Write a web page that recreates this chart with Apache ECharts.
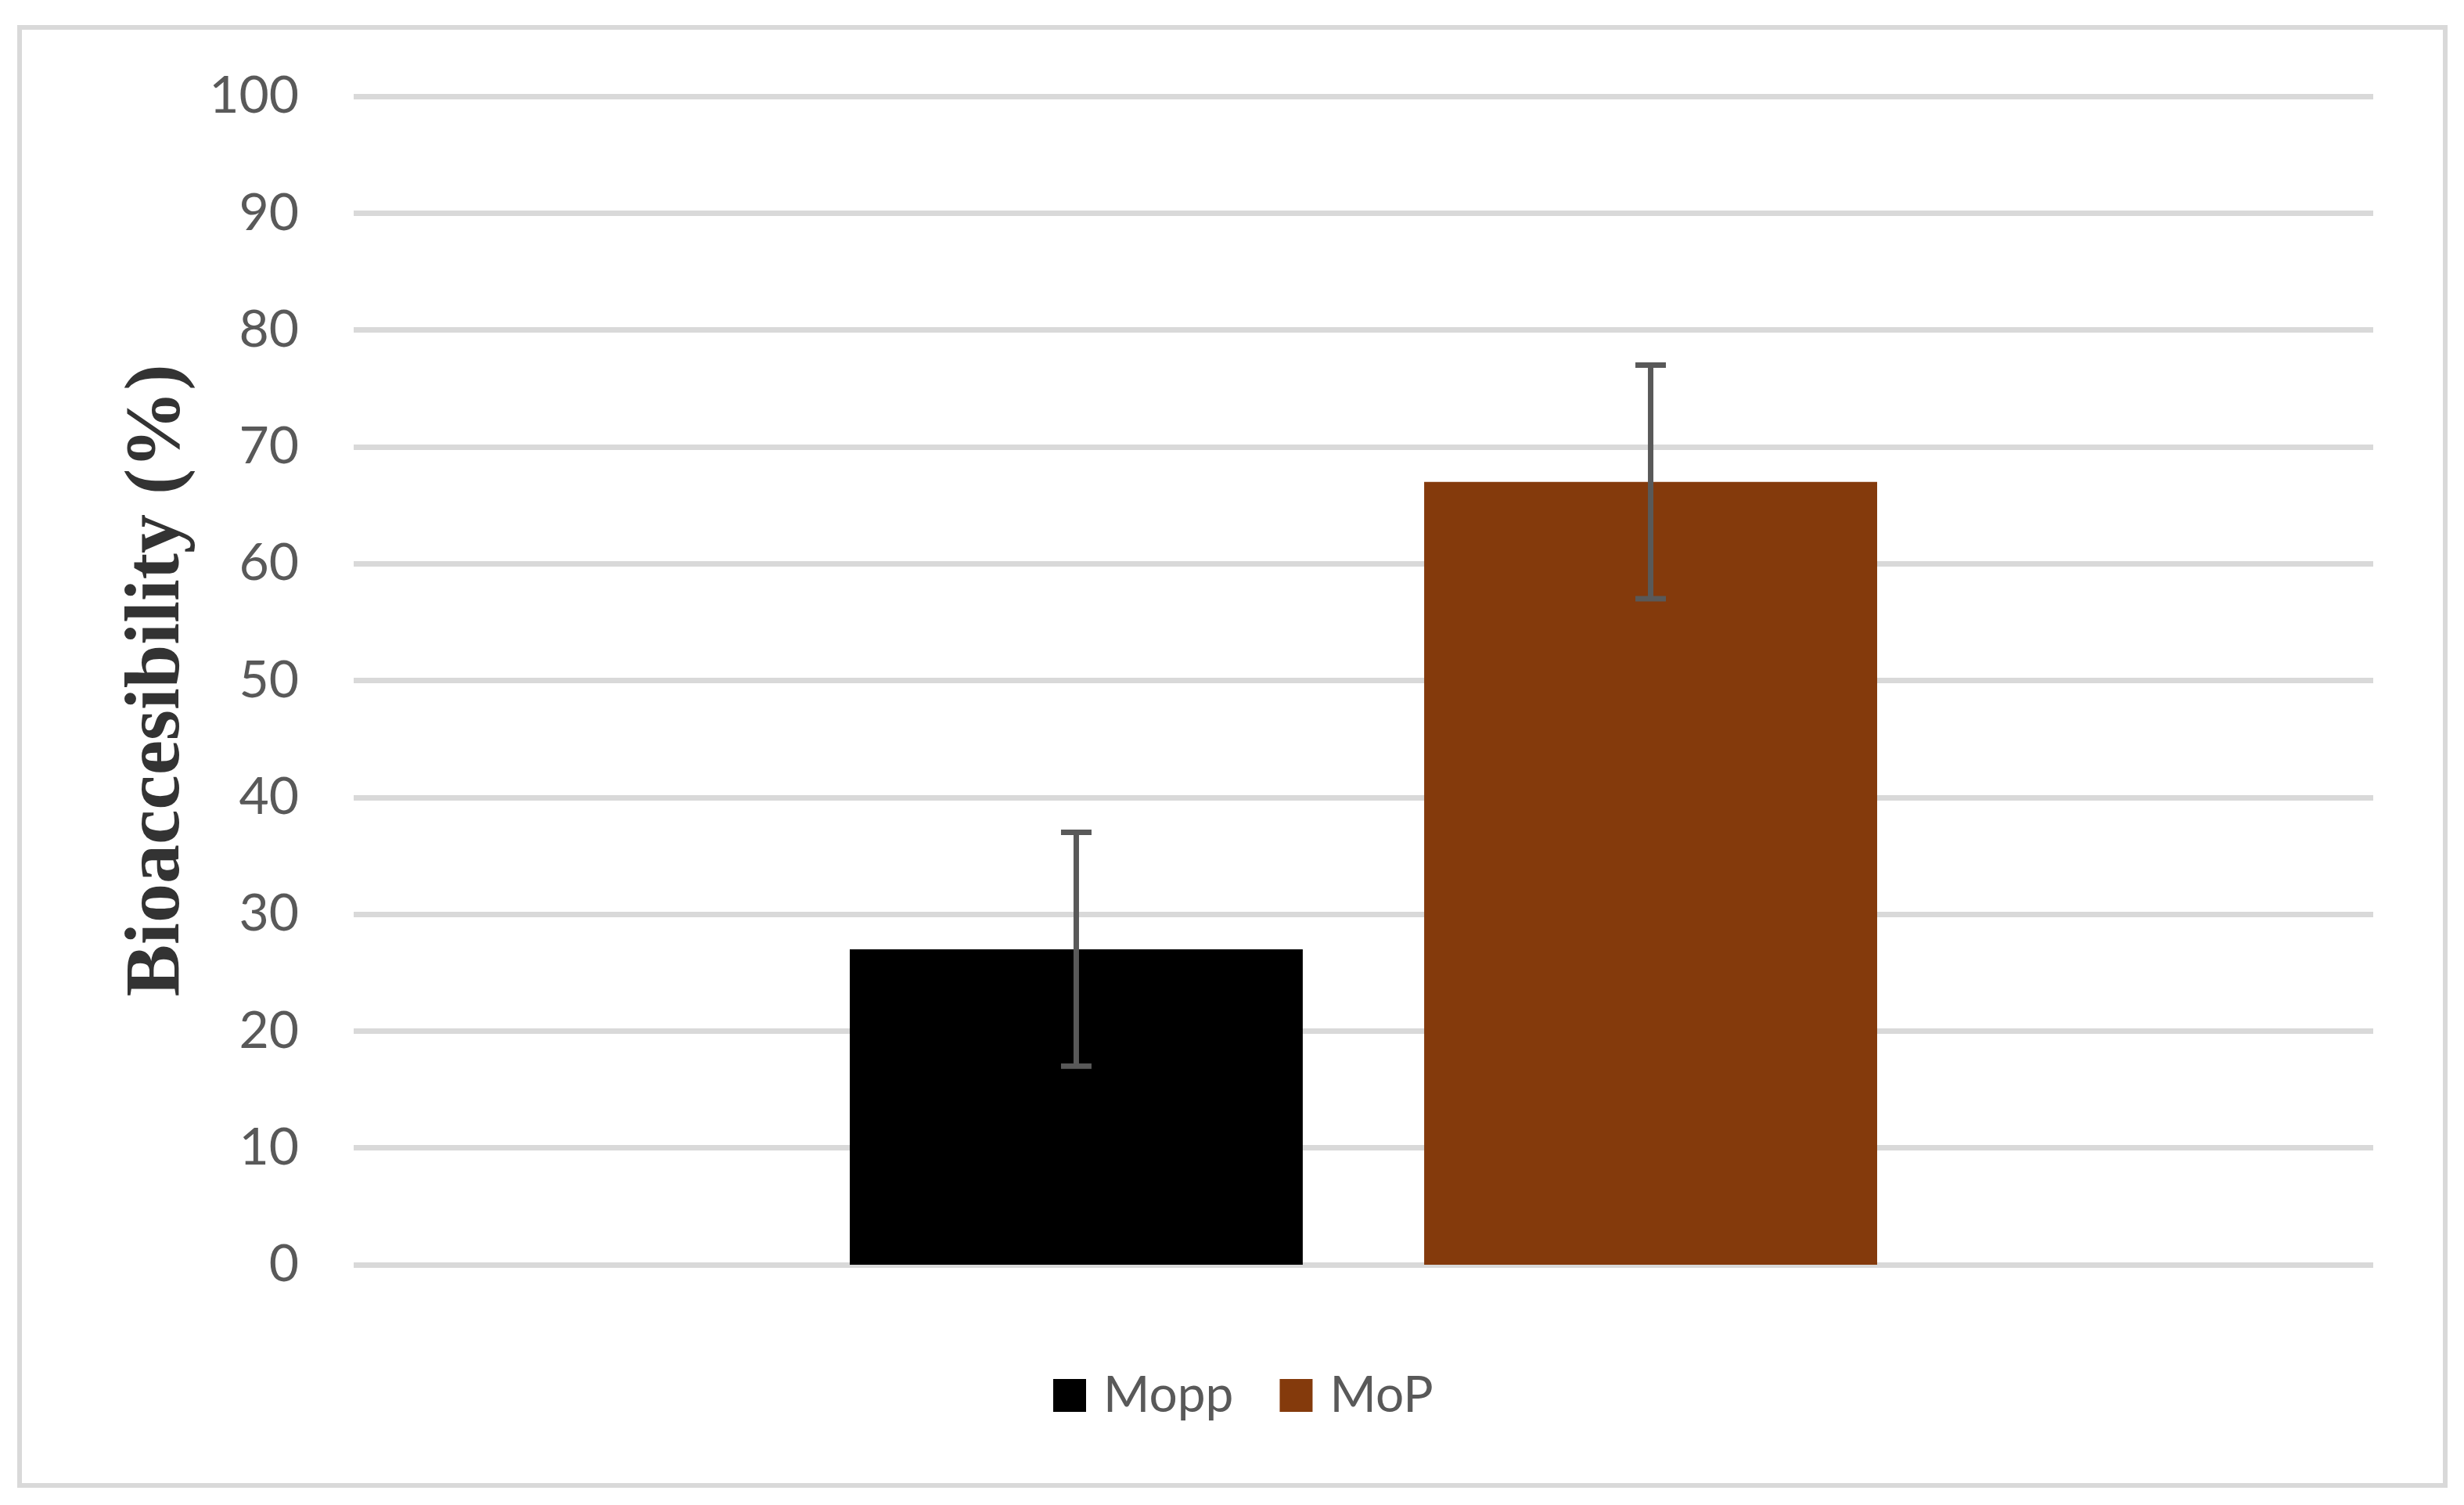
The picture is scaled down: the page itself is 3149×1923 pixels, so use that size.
<!DOCTYPE html>
<html>
<head>
<meta charset="utf-8">
<script src="https://cdn.jsdelivr.net/npm/echarts@6/dist/echarts.min.js"></script>
<style>
  html, body { margin: 0; padding: 0; background: #fff; }
  #chart { width: 3149px; height: 1923px; }
</style>
</head>
<body>
<div id="chart"></div>
<script>
const categories = ['']
const seriesNames = ['Mopp', 'MoP']
const seriesColors = ['#000000', '#843a0c']
const means = [27, 67]
const errors = [10, 10]
const yTicks = { min: 0, max: 100, interval: 10 }

const BAR_W = 0.2243   // share of category band
const BAR_GAP = 0.268  // share of bar width

const TEXT = '#595959'
const GRIDC = '#d9d9d9'

const chart = echarts.init(document.getElementById('chart'))

function errRender(idx) {
  return function (params, api) {
    const band = api.size([1, 0])[0]
    const bw = band * BAR_W
    const off = (bw + bw * BAR_GAP) / 2 * (idx === 0 ? -1 : 1)
    const lo = api.coord([api.value(0), api.value(1)])
    const hi = api.coord([api.value(0), api.value(2)])
    const x = lo[0] + off
    const half = 19.5
    const style = { stroke: '#595959', lineWidth: 7 }
    return {
      type: 'group',
      children: [
        { type: 'line', shape: { x1: x, y1: lo[1], x2: x, y2: hi[1] }, style },
        { type: 'line', shape: { x1: x - half, y1: lo[1], x2: x + half, y2: lo[1] }, style },
        { type: 'line', shape: { x1: x - half, y1: hi[1], x2: x + half, y2: hi[1] }, style }
      ]
    }
  }
}

const barSeries = seriesNames.map((name, i) => ({
  name, type: 'bar',
  data: [means[i]],
  barWidth: (BAR_W * 100) + '%',
  barGap: (BAR_GAP * 100) + '%',
  itemStyle: { color: seriesColors[i] },
  z: 2
}))

const errSeries = seriesNames.map((name, i) => ({
  type: 'custom',
  renderItem: errRender(i),
  data: [[0, means[i] - errors[i], means[i] + errors[i]]],
  z: 5, silent: true
}))

chart.setOption({
  animation: false,
  backgroundColor: '#fff',
  grid: { left: 452, right: 116, top: 123, bottom: 307 },
  legend: {
    data: seriesNames,
    left: 1341, top: 1746,
    icon: 'rect', itemWidth: 42, itemHeight: 42, itemGap: 59,
    textStyle: { color: TEXT, fontSize: 64, fontFamily: 'Lato', lineHeight: 64, padding: [0, 0, 0, 17] }
  },
  xAxis: {
    type: 'category', data: categories,
    axisLine: { show: false }, axisTick: { show: false }, axisLabel: { show: false },
    splitLine: { show: false }
  },
  yAxis: {
    type: 'value', min: yTicks.min, max: yTicks.max, interval: yTicks.interval,
    name: 'Bioaccesibility (%)',
    nameLocation: 'middle', nameRotate: 90, nameGap: 200,
    nameTextStyle: { fontFamily: 'Liberation Serif', fontWeight: 'bold', fontSize: 100, color: '#333333' },
    axisLine: { show: false }, axisTick: { show: false },
    axisLabel: { color: TEXT, fontSize: 66, fontFamily: 'Lato', margin: 70 },
    splitLine: { lineStyle: { color: GRIDC, width: 7 } }
  },
  graphic: [{
    type: 'rect', silent: true,
    shape: { x: 25, y: 35, width: 3100, height: 1863 },
    style: { fill: 'none', stroke: GRIDC, lineWidth: 6 }
  }],
  series: [...barSeries, ...errSeries]
})
</script>
</body>
</html>
